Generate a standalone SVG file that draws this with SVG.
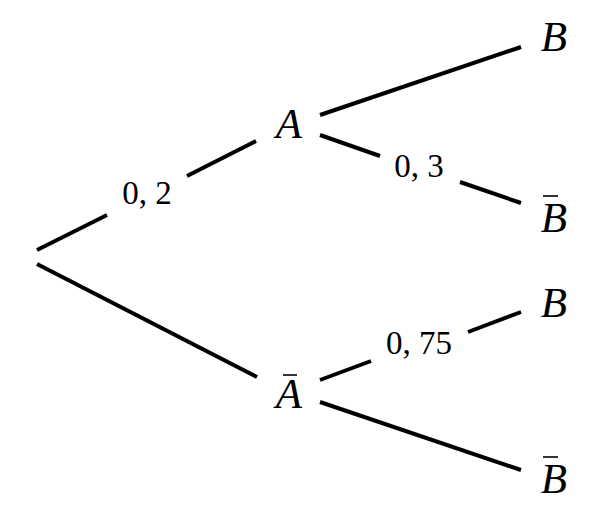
<svg xmlns="http://www.w3.org/2000/svg" width="593" height="520" viewBox="0 0 593 520">
<style>
.e{stroke:#000;stroke-width:4;fill:none}
.v{font-family:"Liberation Serif",serif;font-style:italic;font-size:43px;text-anchor:middle;fill:#000}
.p{font-family:"Liberation Serif",serif;font-size:33px;text-anchor:middle;fill:#000}
.bar{stroke:#000;stroke-width:1.6}
</style>
<rect width="593" height="520" fill="#fff"/>
<g id="connectors">
<line class="e" x1="37" y1="250" x2="107" y2="215"/>
<line class="e" x1="187" y1="176" x2="256" y2="141"/>
<line class="e" x1="37" y1="264" x2="257" y2="377"/>
<line class="e" x1="320" y1="115" x2="521" y2="47"/>
<line class="e" x1="320" y1="135" x2="380" y2="156"/>
<line class="e" x1="460" y1="182" x2="521" y2="203"/>
<line class="e" x1="320" y1="380" x2="371" y2="361"/>
<line class="e" x1="468" y1="332" x2="521" y2="312"/>
<line class="e" x1="320" y1="402" x2="521" y2="470"/>
<text class="p" x="147" y="204">0, 2</text>
<text class="p" x="419" y="177">0, 3</text>
<text class="p" x="419" y="354">0, 75</text>
</g>
<g id="A"><text class="v" x="289" y="138">A</text></g>
<g id="Abar"><text class="v" x="289" y="408">A</text><line class="bar" x1="283" y1="375" x2="297" y2="375"/></g>
<g id="B1"><text class="v" x="554" y="51">B</text></g>
<g id="B1bar"><text class="v" x="554" y="232">B</text><line class="bar" x1="543" y1="196" x2="558" y2="196"/></g>
<g id="B2"><text class="v" x="554" y="317">B</text></g>
<g id="B2bar"><text class="v" x="554" y="493">B</text><line class="bar" x1="543" y1="457" x2="558" y2="457"/></g>
</svg>
